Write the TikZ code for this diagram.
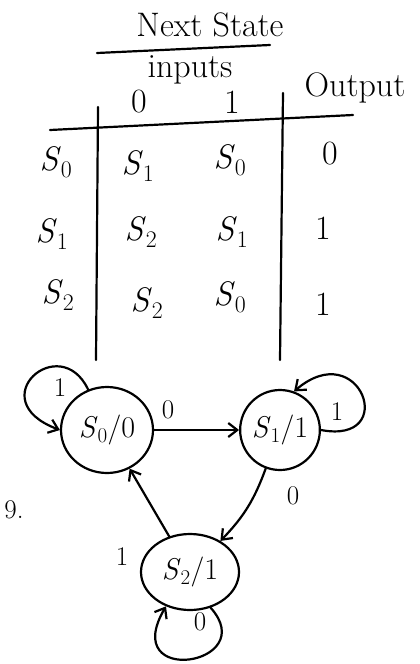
\documentclass[tikz,border=0pt]{standalone}
\usetikzlibrary{shapes.geometric,arrows.meta}
\newcommand{\stname}[1]{\textit{S}\textsubscript{#1}}
\begin{document}
\begin{tikzpicture}[x=1pt,y=-1pt,line width=2.2pt,line cap=round,
  head/.style={font=\fontsize{34}{40}\selectfont},
  cell/.style={font=\fontsize{34}{40}\selectfont},
  state/.style={draw,ellipse,font=\fontsize{30}{34}\selectfont,inner sep=0pt},
  lbl/.style={font=\fontsize{27}{30}\selectfont},
  trans/.style={-{Straight Barb[length=9pt,width=14pt]}}]
\useasboundingbox (0,0) rectangle (420,664);
% table head
\node[head] (next) at (210,25) {Next State};
\draw (97,53) -- (270,45);
\node[cell] (inputs) at (190,70) {inputs};
\node[cell] (in0) at (139,102) {0};
\node[cell] (in1) at (232,102) {1};
\node[cell] (output) at (355,88) {Output};
\draw (50,130) -- (353,115);
\draw (98,107) -- (96,360);
\draw (283,93) -- (280,360);
% rows
\node[cell] (r0) at (56,162) {\stname{0}};
\node[cell] (r0a) at (138,166) {\stname{1}};
\node[cell] (r0b) at (230,160) {\stname{0}};
\node[cell] (r0o) at (330,154) {0};
\node[cell] (r1) at (52,234) {\stname{1}};
\node[cell] (r1a) at (141,232) {\stname{2}};
\node[cell] (r1b) at (232,232) {\stname{1}};
\node[cell] (r1o) at (323,228) {1};
\node[cell] (r2) at (58,295) {\stname{2}};
\node[cell] (r2a) at (147,303) {\stname{2}};
\node[cell] (r2b) at (230,297) {\stname{0}};
\node[cell] (r2o) at (323,304) {1};
% diagram
\node[state,minimum width=92pt,minimum height=86pt] (s0) at (107,430) {\stname{0}/0};
\node[state,minimum width=78pt,minimum height=80pt] (s1) at (280,430) {\stname{1}/1};
\node[state,minimum width=98pt,minimum height=76pt] (s2) at (190,572) {\stname{2}/1};
\node[lbl,anchor=west] (nine) at (0,510) {9.};
\draw[trans] (s0.115) .. controls (60,330) and (-20,400) .. (s0.180);
\draw[trans] (s1.0) .. controls (400,445) and (360,335) .. (s1.70);
\draw[trans] (s2.-60) .. controls (262,665) and (118,688) .. (s2.235);
\draw[trans] (s0) -- (s1);
\draw[trans] (s1) to[bend left=12] (s2);
\draw[trans] (s2) -- (s0);
% labels
\node[lbl] (l00) at (60,388) {1};
\node[lbl] (l01) at (168,410) {0};
\node[lbl] (l11) at (337,412) {1};
\node[lbl] (l12) at (293,496) {0};
\node[lbl] (l20) at (122,557) {1};
\node[lbl] (l22) at (200,622) {0};
\end{tikzpicture}
\end{document}
